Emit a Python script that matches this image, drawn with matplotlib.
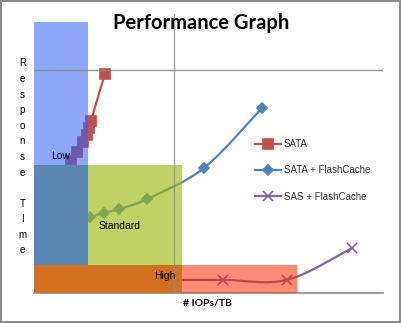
import matplotlib
matplotlib.use("Agg")
import matplotlib.pyplot as plt
from matplotlib.patches import Rectangle, PathPatch
from matplotlib.path import Path

# series values (x = # IOPs/TB, y = response time, arbitrary units 0-100)
sata_x = [10.6, 12.3, 14.0, 15.2, 15.8, 16.3, 20.3]
sata_y = [47.3, 50.5, 54.1, 56.6, 59.1, 61.6, 78.5]
sata_fc_x = [16.0, 20.1, 24.4, 32.4, 48.7, 65.3]
sata_fc_y = [27.2, 28.7, 30.1, 33.7, 44.8, 66.3]
sas_fc_x = [36.1, 54.2, 72.5, 91.1]
sas_fc_y = [4.7, 4.7, 4.7, 16.1]

series_names = ["SATA", "SATA + FlashCache", "SAS + FlashCache"]

# performance zones: (name, x max, y max)
zone_names = ["Low", "Standard", "High"]
zone_xmax = [15.5, 42.5, 75.4]
zone_ymax = [97, 46, 10]


def smooth_path(xs, ys):
    # Excel-style smoothed line: cubic bezier through the points
    pts = list(zip(xs, ys))
    verts = [pts[0]]
    codes = [Path.MOVETO]
    n = len(pts)
    for i in range(n - 1):
        p0 = pts[i - 1] if i > 0 else pts[i]
        p1, p2 = pts[i], pts[i + 1]
        p3 = pts[i + 2] if i + 2 < n else pts[i + 1]
        c1 = (p1[0] + (p2[0] - p0[0]) / 6, p1[1] + (p2[1] - p0[1]) / 6)
        c2 = (p2[0] - (p3[0] - p1[0]) / 6, p2[1] - (p3[1] - p1[1]) / 6)
        verts += [c1, c2, p2]
        codes += [Path.CURVE4] * 3
    return Path(verts, codes)


W, H = 401, 323
fig = plt.figure(figsize=(W / 100, H / 100), dpi=100)
fig.patch.set_facecolor("white")
fig.patch.set_edgecolor("#8c8c8c")
fig.patch.set_linewidth(1.5)

ax = fig.add_axes([34 / W, (H - 293) / H, 349 / W, 279 / H])
ax.set_xlim(0, 100)
ax.set_ylim(0, 100)
ax.set_xticks([])
ax.set_yticks([])
for s in ["left", "top", "right"]:
    ax.spines[s].set_visible(False)
ax.spines["bottom"].set_color("#8c8c8c")
ax.spines["bottom"].set_linewidth(1.2)

# lines (smoothed) + markers
series = [(sata_x, sata_y, "#C0504D", "s", 6.5),
          (sata_fc_x, sata_fc_y, "#4F81BD", "D", 5),
          (sas_fc_x, sas_fc_y, "#8064A2", "x", 6.5)]
for (xs, ys, c, m, ms), name in zip(series, series_names):
    ax.add_patch(PathPatch(smooth_path(xs, ys), facecolor="none", edgecolor=c,
                           lw=1.6, zorder=2))
    ax.plot(xs, ys, color=c, lw=1.6, ls="none", marker=m, ms=ms, mew=1.2, zorder=2)
    ax.plot([], [], color=c, lw=1.6, marker=m, ms=ms, mew=1.2, label=name)

# zones drawn on top, semi-transparent like the dithered fills
zone_colors = [(49 / 255, 95 / 255, 249 / 255), (158 / 255, 186 / 255, 20 / 255),
               (249 / 255, 45 / 255, 2 / 255)]
zone_alpha = [0.55, 0.65, 0.55]
for i in range(3):
    ax.add_patch(Rectangle((0, 0), zone_xmax[i], zone_ymax[i], facecolor=zone_colors[i],
                           alpha=zone_alpha[i], lw=0, zorder=3))
# overlaps
ax.add_patch(Rectangle((0, zone_ymax[2]), zone_xmax[0], zone_ymax[1] - zone_ymax[2],
                       facecolor="#5A86B4", lw=0, zorder=3.5))
ax.add_patch(Rectangle((0, 0), zone_xmax[1], zone_ymax[2],
                       facecolor="#D2701E", lw=0, zorder=3.5))

# gridlines
ax.axhline(80, color="#8c8c8c", lw=1, zorder=4, alpha=0.9)
ax.axvline(40, color="#8c8c8c", lw=1, zorder=4, alpha=0.8)

# zone labels
zone_lx = [7.7, 24.4, 37.5]
zone_ly = [49.1, 24.1, 6.1]
for i in range(3):
    ax.text(zone_lx[i], zone_ly[i], zone_names[i], fontsize=7.5, family="Liberation Sans",
            ha="center", va="center", zorder=5)

fig.text(201 / W, 1 - 23 / H, "Performance Graph", fontsize=14.5, fontweight="bold",
         family="Lato", ha="center", va="center")
fig.text(207 / W, 1 - 303 / H, "# IOPs/TB", fontsize=7.5, fontweight="bold",
         family="Lato", ha="center", va="center")
fig.text(22.5 / W, 1 - 118 / H, "\n".join("Response"), fontsize=7, family="Liberation Sans",
         ha="center", va="center", linespacing=1.7)
fig.text(22.5 / W, 1 - 227 / H, "\n".join("TIme"), fontsize=7, family="Liberation Sans",
         ha="center", va="center", linespacing=1.7)

fig.legend(loc="upper left", bbox_to_anchor=(255 / W, 1 - 139 / H), frameon=False,
           borderpad=0, borderaxespad=0, handlelength=2.7, handletextpad=0.25,
           labelspacing=1.68, prop={"family": "Liberation Sans", "size": 7},
           labelcolor="#333333")

fig.savefig("out.png", dpi=100)
